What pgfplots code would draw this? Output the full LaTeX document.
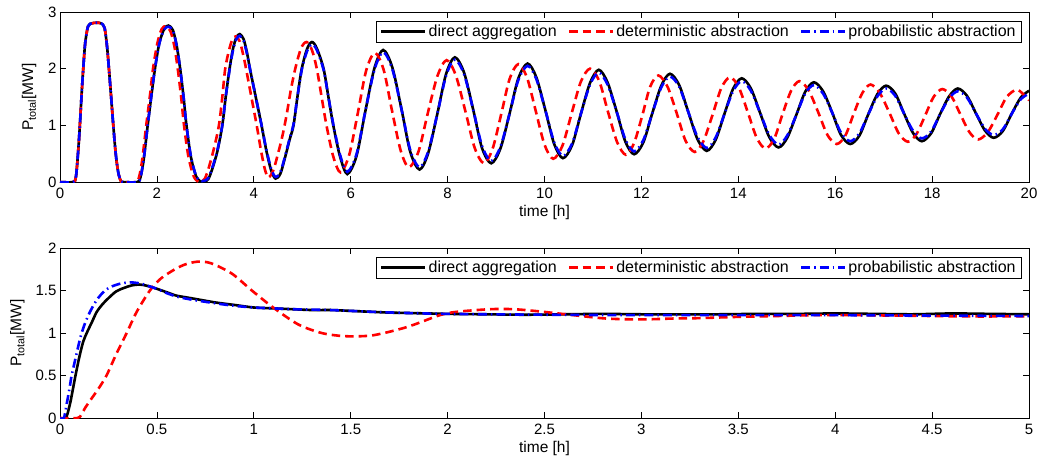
\documentclass[border=0pt]{standalone}
\usepackage{fontspec}
\setmainfont{Liberation Sans}
\usepackage{pgfplots}
\pgfplotsset{compat=1.18}
\usepackage{pgfplotstable}

\pgfplotstableread{
t P
0 0
0.27 0
0.33 0.1
0.38 0.6
0.41 1.0
0.45 1.6
0.48 2.0
0.52 2.45
0.58 2.75
0.66 2.8
0.75 2.81
0.85 2.8
0.92 2.72
0.97 2.4
1.01 2.0
1.06 1.45
1.10 1.0
1.15 0.5
1.20 0.18
1.25 0.03
1.30 0
1.60 0
1.66 0.08
1.72 0.35
1.77 0.7
1.81 1.0
1.89 1.55
1.96 2.0
2.05 2.45
2.15 2.7
2.24 2.76
2.33 2.68
2.41 2.4
2.48 2.0
2.55 1.5
2.61 1.0
2.70 0.45
2.80 0.12
2.88 0.02
2.97 0.0
3.06 0.05
3.15 0.25
3.25 0.55
3.35 1.0
3.42 1.5
3.50 2.0
3.57 2.35
3.64 2.55
3.71 2.61
3.79 2.52
3.86 2.28
3.92 2.0
4.04 1.5
4.16 1.0
4.26 0.55
4.36 0.2
4.45 0.06
4.55 0.15
4.65 0.45
4.74 0.75
4.82 1.0
4.90 1.5
4.99 2.0
5.10 2.35
5.20 2.47
5.30 2.36
5.44 2.0
5.54 1.5
5.64 1.0
5.78 0.45
5.93 0.14
6.12 0.46
6.30 1.24
6.49 2.01
6.67 2.33
6.86 2.02
7.05 1.28
7.23 0.53
7.42 0.22
7.60 0.51
7.79 1.21
7.97 1.91
8.15 2.20
8.34 1.93
8.53 1.27
8.71 0.60
8.90 0.33
9.09 0.59
9.28 1.21
9.46 1.83
9.65 2.09
9.83 1.85
10.02 1.26
10.20 0.67
10.38 0.42
10.57 0.65
10.75 1.20
10.94 1.75
11.12 1.98
11.30 1.76
11.49 1.24
11.67 0.71
11.85 0.49
12.04 0.70
12.22 1.20
12.41 1.70
12.59 1.91
12.78 1.71
12.97 1.23
13.16 0.75
13.35 0.55
13.53 0.74
13.71 1.19
13.89 1.64
14.07 1.83
14.26 1.65
14.45 1.22
14.64 0.79
14.83 0.61
15.01 0.78
15.20 1.19
15.38 1.59
15.56 1.76
15.75 1.60
15.94 1.22
16.12 0.83
16.31 0.67
16.50 0.82
16.68 1.19
16.87 1.55
17.05 1.70
17.24 1.56
17.42 1.21
17.61 0.86
17.79 0.72
17.98 0.86
18.16 1.19
18.35 1.51
18.53 1.65
18.72 1.52
18.90 1.22
19.09 0.91
19.27 0.78
19.46 0.90
19.64 1.20
19.83 1.49
20.00 1.61
}\topblack

\pgfplotstableread{
t P
0 0
0.27 0
0.33 0.1
0.38 0.6
0.41 1.0
0.45 1.6
0.48 2.0
0.52 2.45
0.58 2.75
0.66 2.8
0.75 2.81
0.85 2.8
0.92 2.72
0.97 2.4
1.01 2.0
1.06 1.45
1.10 1.0
1.15 0.5
1.20 0.18
1.25 0.03
1.30 0
1.57 0
1.63 0.08
1.69 0.35
1.74 0.7
1.78 1.0
1.86 1.55
1.92 2.0
2.01 2.45
2.10 2.7
2.19 2.75
2.28 2.66
2.36 2.4
2.43 2.0
2.50 1.5
2.56 1.0
2.65 0.45
2.75 0.12
2.83 0.02
2.90 0.0
2.99 0.06
3.08 0.28
3.18 0.6
3.28 1.0
3.35 1.5
3.41 2.0
3.49 2.33
3.56 2.52
3.63 2.57
3.71 2.48
3.78 2.25
3.84 2.0
3.95 1.5
4.06 1.0
4.15 0.55
4.23 0.22
4.30 0.08
4.40 0.2
4.50 0.5
4.60 0.85
4.68 1.2
4.77 1.65
4.87 2.05
4.98 2.37
5.09 2.47
5.20 2.33
5.30 2.0
5.40 1.5
5.50 1.0
5.64 0.45
5.79 0.17
5.97 0.48
6.15 1.23
6.32 1.97
6.50 2.28
6.68 1.98
6.85 1.27
7.03 0.56
7.20 0.26
7.40 0.54
7.59 1.21
7.79 1.87
7.98 2.15
8.17 1.88
8.37 1.24
8.56 0.60
8.75 0.33
8.93 0.59
9.11 1.21
9.28 1.82
9.46 2.08
9.64 1.84
9.82 1.25
10.00 0.66
10.18 0.41
10.37 0.64
10.56 1.21
10.75 1.77
10.94 2.00
11.13 1.78
11.31 1.24
11.50 0.70
11.68 0.48
11.85 0.69
12.02 1.18
12.18 1.68
12.35 1.88
12.54 1.68
12.73 1.21
12.91 0.73
13.10 0.53
13.28 0.72
13.47 1.19
13.65 1.66
13.83 1.85
14.01 1.67
14.20 1.22
14.38 0.78
14.56 0.59
14.74 0.76
14.91 1.19
15.09 1.61
15.26 1.78
15.45 1.62
15.65 1.23
15.84 0.83
16.03 0.67
16.21 0.82
16.38 1.20
16.56 1.57
16.73 1.72
16.92 1.57
17.12 1.22
17.31 0.86
17.50 0.71
17.68 0.85
17.86 1.18
18.03 1.50
18.21 1.64
18.40 1.51
18.58 1.20
18.77 0.88
18.95 0.75
19.15 0.88
19.35 1.19
19.54 1.50
19.74 1.63
19.88 1.55
20.00 1.44
}\topred

\pgfplotstableread{
t P
0 0
0.27 0
0.33 0.1
0.38 0.6
0.41 1.0
0.45 1.6
0.48 2.0
0.52 2.45
0.58 2.75
0.66 2.8
0.75 2.81
0.85 2.8
0.92 2.72
0.97 2.4
1.01 2.0
1.06 1.45
1.10 1.0
1.15 0.5
1.20 0.18
1.25 0.03
1.30 0
1.60 0
1.66 0.08
1.72 0.35
1.77 0.7
1.81 1.0
1.89 1.55
1.96 2.0
2.05 2.44
2.15 2.69
2.24 2.74
2.33 2.67
2.41 2.4
2.48 2.0
2.55 1.5
2.61 1.0
2.70 0.46
2.80 0.13
2.88 0.03
2.97 0.02
3.06 0.07
3.15 0.27
3.25 0.57
3.35 1.0
3.42 1.5
3.50 1.98
3.57 2.32
3.64 2.52
3.71 2.58
3.79 2.49
3.86 2.26
3.92 2.0
4.04 1.5
4.16 1.0
4.26 0.57
4.36 0.23
4.45 0.09
4.55 0.18
4.65 0.47
4.74 0.77
4.82 1.02
4.90 1.5
4.99 1.98
5.10 2.31
5.20 2.43
5.30 2.33
5.44 1.98
5.54 1.5
5.64 1.02
5.78 0.48
5.93 0.18
6.12 0.49
6.30 1.24
6.49 1.98
6.67 2.29
6.86 1.99
7.05 1.28
7.23 0.56
7.42 0.26
7.60 0.54
7.79 1.21
7.97 1.88
8.15 2.16
8.34 1.90
8.53 1.27
8.71 0.64
8.90 0.37
9.09 0.62
9.28 1.21
9.46 1.80
9.65 2.05
9.83 1.82
10.02 1.26
10.20 0.70
10.38 0.46
10.57 0.68
10.75 1.20
10.94 1.72
11.12 1.93
11.30 1.72
11.49 1.24
11.67 0.75
11.85 0.54
12.04 0.74
12.22 1.20
12.41 1.67
12.59 1.86
12.78 1.68
12.97 1.23
13.16 0.79
13.35 0.60
13.53 0.78
13.71 1.19
13.89 1.60
14.07 1.78
14.26 1.61
14.45 1.22
14.64 0.83
14.83 0.66
15.01 0.82
15.20 1.19
15.38 1.56
15.56 1.71
15.75 1.56
15.94 1.22
16.12 0.87
16.31 0.72
16.50 0.86
16.68 1.19
16.87 1.51
17.05 1.65
17.24 1.52
17.42 1.21
17.61 0.90
17.79 0.77
17.98 0.89
18.16 1.19
18.35 1.48
18.53 1.60
18.72 1.49
18.90 1.22
19.09 0.94
19.27 0.83
19.46 0.93
19.64 1.20
19.83 1.46
20.00 1.56
}\topblue

\pgfplotstableread{
t P
0 0
0.03 0
0.05 0.15
0.065 0.32
0.08 0.5
0.10 0.72
0.12 0.9
0.14 1.01
0.165 1.13
0.19 1.25
0.22 1.34
0.25 1.41
0.29 1.49
0.33 1.53
0.37 1.56
0.41 1.57
0.45 1.555
0.50 1.52
0.55 1.48
0.60 1.44
0.65 1.42
0.70 1.40
0.80 1.36
0.90 1.33
1.00 1.30
1.10 1.29
1.20 1.28
1.30 1.27
1.40 1.27
1.50 1.26
1.60 1.25
1.70 1.24
1.80 1.235
1.90 1.23
2.00 1.225
2.20 1.22
2.40 1.215
2.60 1.22
2.80 1.225
3.00 1.22
3.20 1.22
3.40 1.22
3.60 1.225
3.80 1.225
4.00 1.23
4.20 1.225
4.40 1.22
4.60 1.23
4.80 1.225
5.00 1.22
}\botblack

\pgfplotstableread{
t P
0 0
0.09 0
0.11 0.04
0.13 0.12
0.16 0.22
0.20 0.35
0.24 0.5
0.29 0.75
0.344 1.0
0.396 1.25
0.464 1.5
0.52 1.64
0.593 1.75
0.65 1.81
0.714 1.84
0.78 1.82
0.886 1.70
0.99 1.50
1.10 1.30
1.23 1.10
1.35 1.00
1.45 0.965
1.50 0.96
1.62 0.975
1.79 1.07
1.96 1.21
2.05 1.25
2.22 1.28
2.34 1.28
2.47 1.255
2.65 1.21
2.82 1.17
3.00 1.16
3.16 1.17
3.30 1.175
3.50 1.19
3.70 1.20
3.90 1.21
4.10 1.21
4.30 1.205
4.50 1.20
4.70 1.195
4.90 1.195
5.00 1.195
}\botred

\pgfplotstableread{
t P
0 0
0.02 0
0.035 0.17
0.05 0.36
0.06 0.5
0.08 0.7
0.10 0.9
0.112 1.0
0.13 1.12
0.155 1.25
0.19 1.39
0.232 1.5
0.27 1.55
0.32 1.585
0.37 1.595
0.42 1.58
0.46 1.55
0.50 1.52
0.55 1.47
0.60 1.43
0.65 1.405
0.70 1.385
0.80 1.35
0.90 1.32
1.00 1.30
1.10 1.29
1.20 1.28
1.40 1.27
1.60 1.25
1.80 1.235
2.00 1.225
2.50 1.215
3.00 1.21
3.50 1.21
4.00 1.21
4.50 1.205
5.00 1.20
}\botblue

\pgfplotsset{
  mystyle/.style={
    scale only axis, width=969bp, height=170bp,
    axis line style={line width=0.8bp},
    every tick/.style={black, line width=0.8bp},
    major tick length=6bp,
    tick align=inside,
    xtick pos=both, ytick pos=both,
    /pgf/number format/assume math mode=true,
    tick label style={font=\fontsize{15bp}{17bp}\selectfont},
    xticklabel style={yshift=-3bp},
    label style={font=\fontsize{15.5bp}{18bp}\selectfont},
    xlabel={time [h]},
    ylabel={P\textsubscript{total}[MW]},
    xlabel style={at={(axis description cs:0.5,0)}, anchor=north, yshift=-20bp},
    legend columns=3,
    legend cell align=left,
    legend style={at={(1,1)}, anchor=north east, xshift=-7bp, yshift=-8.5bp,
      draw=black, line width=0.8bp, fill=white,
      font=\fontsize{16bp}{18bp}\selectfont,
      inner xsep=4bp, inner ysep=2bp,
      /tikz/every even column/.append style={column sep=9bp}},
    legend image code/.code={\draw[##1] (0bp,0bp) -- (44bp,0bp);},
  },
  blk/.style={black, line width=2.6bp, smooth},
  rd/.style={red, line width=2.6bp, dash pattern=on 8.5bp off 5bp, smooth},
  bl/.style={blue, line width=2.6bp, dash pattern=on 9bp off 4bp on 1.5bp off 4bp, smooth},
}

\begin{document}
\begin{tikzpicture}
\begin{axis}[mystyle, at={(0,0)}, anchor=south west,
  xmin=0, xmax=20, ymin=0, ymax=3,
  xtick={0,2,4,6,8,10,12,14,16,18,20}, ytick={0,1,2,3},
  ylabel style={at={(axis description cs:-0.032,0.5)}, anchor=center}]
\addplot[blk] table[x=t,y=P] {\topblack};
\addlegendentry{direct aggregation}
\addplot[rd] table[x=t,y=P] {\topred};
\addlegendentry{deterministic abstraction}
\addplot[bl] table[x=t,y=P] {\topblue};
\addlegendentry{probabilistic abstraction}
\end{axis}
\begin{axis}[mystyle, at={(0,-236bp)}, anchor=south west,
  xmin=0, xmax=5, ymin=0, ymax=2,
  xtick={0,0.5,1,1.5,2,2.5,3,3.5,4,4.5,5}, ytick={0,0.5,1,1.5,2},
  ylabel style={at={(axis description cs:-0.044,0.5)}, anchor=center}]
\addplot[blk] table[x=t,y=P] {\botblack};
\addlegendentry{direct aggregation}
\addplot[rd] table[x=t,y=P] {\botred};
\addlegendentry{deterministic abstraction}
\addplot[bl] table[x=t,y=P] {\botblue};
\addlegendentry{probabilistic abstraction}
\end{axis}
\pgfresetboundingbox
\useasboundingbox (-60bp,-280bp) rectangle (979bp,182bp);
\end{tikzpicture}
\end{document}
